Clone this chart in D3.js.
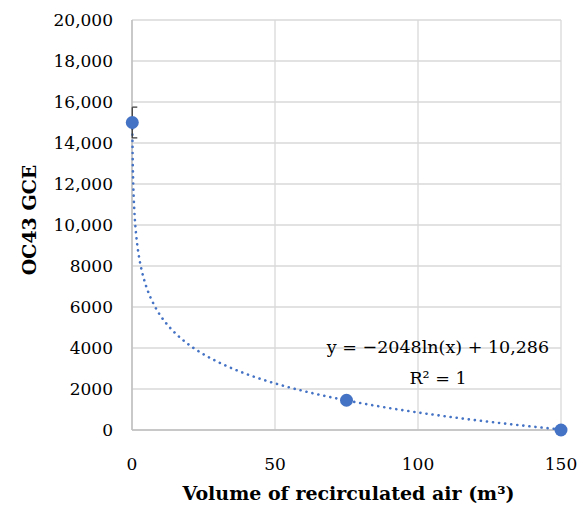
<!DOCTYPE html>
<html>
<head>
<meta charset="utf-8">
<script src="https://cdn.jsdelivr.net/npm/d3@7"></script>
<style>
  body { margin: 0; background: #fff; }
</style>
</head>
<body>
<svg id="chart" width="587" height="513"></svg>
<script>
const volumes = [0.1, 75, 150]
const gce = [15000, 1450, 0]
const gceError = [750, 0, 0]
const xTicks = [0, 50, 100, 150]
const yTicks = [0, 2000, 4000, 6000, 8000, 10000, 12000, 14000, 16000, 18000, 20000]
const fitA = -2048
const fitB = 10286

const FONT = "'DejaVu Serif', 'Liberation Serif', serif"

const svg = d3.select('#chart')
  .attr('font-family', FONT)
const margin = { left: 132, right: 26, top: 20, bottom: 83 }
const width = 587 - margin.left - margin.right
const height = 513 - margin.top - margin.bottom

const x = d3.scaleLinear().domain([0, 150]).range([0, width])
const y = d3.scaleLinear().domain([0, 20000]).range([height, 0])

const g = svg.append('g').attr('transform', 'translate(' + margin.left + ',' + margin.top + ')')

// gridlines
g.selectAll('.hgrid')
  .data(yTicks)
  .enter()
  .append('line')
  .attr('x1', 0).attr('x2', width)
  .attr('y1', d => y(d)).attr('y2', d => y(d))
  .attr('stroke', '#d9d9d9').attr('stroke-width', 1.3)

g.selectAll('.vgrid')
  .data(xTicks)
  .enter()
  .append('line')
  .attr('x1', d => x(d)).attr('x2', d => x(d))
  .attr('y1', 0).attr('y2', height)
  .attr('stroke', '#d9d9d9').attr('stroke-width', 1.3)

// axis lines
g.append('line').attr('x1', 0).attr('x2', 0).attr('y1', 0).attr('y2', height)
  .attr('stroke', '#bfbfbf').attr('stroke-width', 1.5)
g.append('line').attr('x1', 0).attr('x2', width).attr('y1', height).attr('y2', height)
  .attr('stroke', '#bfbfbf').attr('stroke-width', 1.5)

// tick labels
const fmt = d => d >= 10000 ? d3.format(',')(d) : String(d)
g.selectAll('.ylab')
  .data(yTicks)
  .enter()
  .append('text')
  .attr('x', -19)
  .attr('y', d => y(d) + 6)
  .attr('text-anchor', 'end')
  .style('font-family', FONT)
  .style('font-size', '17px')
  .text(fmt)

g.selectAll('.xlab')
  .data(xTicks)
  .enter()
  .append('text')
  .attr('x', d => x(d))
  .attr('y', height + 40)
  .attr('text-anchor', 'middle')
  .style('font-family', FONT)
  .style('font-size', '17px')
  .text(d => d)

// trendline
const fitX = d3.range(0, 1501).map(i => Math.max(0.1, i / 10))
const line = d3.line()
  .x(d => x(d))
  .y(d => y(fitA * Math.log(d) + fitB))
g.append('path')
  .datum(fitX)
  .attr('d', line)
  .attr('fill', 'none')
  .attr('stroke', '#4472c4')
  .attr('stroke-width', 2.6)
  .attr('stroke-dasharray', '0.1 6')
  .attr('stroke-linecap', 'round')

// error bars
const pts = volumes.map((v, i) => ({ x: v, y: gce[i], e: gceError[i] }))
pts.filter(d => d.e > 0).forEach(d => {
  g.append('line')
    .attr('x1', x(d.x)).attr('x2', x(d.x))
    .attr('y1', y(d.y + d.e)).attr('y2', y(d.y - d.e))
    .attr('stroke', '#404040').attr('stroke-width', 1.3)
  ;[d.y + d.e, d.y - d.e].forEach(v => {
    g.append('line')
      .attr('x1', x(d.x)).attr('x2', x(d.x) + 5)
      .attr('y1', y(v)).attr('y2', y(v))
      .attr('stroke', '#404040').attr('stroke-width', 1.3)
  })
})

// points
g.selectAll('.dot')
  .data(pts)
  .enter()
  .append('circle')
  .attr('cx', d => x(d.x))
  .attr('cy', d => y(d.y))
  .attr('r', 6.5)
  .attr('fill', '#4472c4')

// equation
g.append('text')
  .attr('x', 306).attr('y', 333)
  .attr('text-anchor', 'middle')
  .style('font-family', FONT)
  .style('font-size', '17.5px')
  .text('y = \u22122048ln(x) + 10,286')
g.append('text')
  .attr('x', 306).attr('y', 364)
  .attr('text-anchor', 'middle')
  .style('font-family', FONT)
  .style('font-size', '17.5px')
  .text('R\u00b2 = 1')

// axis titles
svg.append('text')
  .attr('x', margin.left + width / 2 + 2)
  .attr('y', 500)
  .attr('text-anchor', 'middle')
  .style('font-family', FONT)
  .style('font-size', '19px')
  .style('font-weight', 'bold')
  .text('Volume of recirculated air (m\u00b3)')

svg.append('text')
  .attr('transform', 'translate(36,220) rotate(-90)')
  .attr('text-anchor', 'middle')
  .style('font-family', FONT)
  .style('font-size', '19px')
  .style('font-weight', 'bold')
  .text('OC43 GCE')
</script>
</body>
</html>
